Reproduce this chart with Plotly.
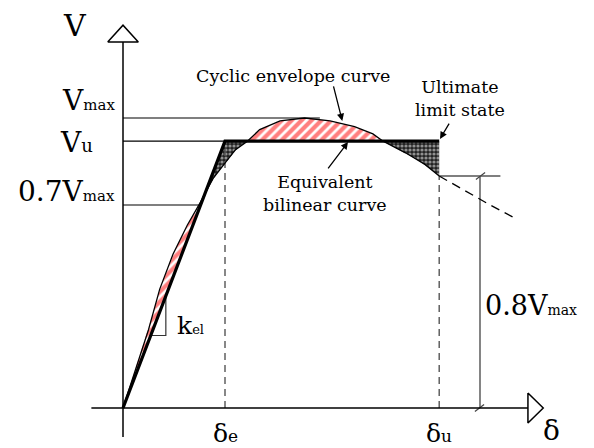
import numpy as np
import plotly.graph_objects as go

# ---------------- data (normalised units: V / Vmax, delta / delta_e) ----------------
V_max = 1.0
V_u = 0.92
V_07 = 0.7
V_08 = 0.8
delta_e = 1.0
delta_u = 3.1
delta_dim = 3.5  # abscissa of the 0.8Vmax dimension line

delta_env = [0, 0.12, 0.25, 0.36, 0.49, 0.63, 0.76, 0.88, 1.0, 1.1, 1.22, 1.34,
             1.54, 1.78, 2.03, 2.27, 2.45, 2.55, 2.77, 2.96, 3.1]
V_env = [0, 0.13, 0.27, 0.41, 0.53, 0.63, 0.71, 0.79, 0.845, 0.89, 0.92, 0.96,
         0.99, 1.0, 0.99, 0.97, 0.945, 0.92, 0.88, 0.84, 0.80]
delta_post = [3.1, 3.35, 3.6, 3.84]
V_post = [0.80, 0.75, 0.70, 0.655]

delta_bil = [0, delta_e, delta_u]
V_bil = [0, V_u, V_u]

k_el = V_u / delta_e

FONT = "DejaVu Serif"
W, H = 594, 448
X0, Y0 = 115, 400          # figure-pixel position of the origin (page has an 8px offset)
SX, SY = 102.0, 290.0      # pixels per unit
xr = [-X0 / SX, (W - X0) / SX]
yr = [-(H - Y0) / SY, Y0 / SY]

fig = go.Figure()

# ---------------- hatched regions between envelope and bilinear ----------------
dd = np.linspace(0, delta_u, 1500)
ve = np.interp(dd, delta_env, V_env)
vb = np.minimum(k_el * dd, V_u)
sgn = np.sign(np.round(ve - vb, 6))
n = len(dd)
i = 0
while i < n:
    s = sgn[i]
    if s == 0:
        i += 1
        continue
    j = i
    while j < n and sgn[j] == s:
        j += 1
    lo, hi = max(i - 1, 0), min(j, n - 1)
    xs = list(dd[lo:hi + 1]) + list(dd[lo:hi + 1][::-1])
    ys = list(ve[lo:hi + 1]) + list(vb[lo:hi + 1][::-1])
    if s > 0:
        patt = dict(shape="/", fgcolor="#ff0000", bgcolor="white", size=7, solidity=0.6)
    else:
        patt = dict(shape=".", fgcolor="white", bgcolor="#222", size=4, solidity=0.5)
    fig.add_trace(go.Scatter(x=xs, y=ys, mode="lines", fill="toself",
                             line=dict(width=0, color="rgba(0,0,0,0)"),
                             fillpattern=patt, hoverinfo="skip", showlegend=False))
    i = j

# ---------------- reference lines ----------------
i_pk = int(np.argmax(V_env))
d_pk = delta_env[i_pk]
d_07 = float(np.interp(V_07, V_env[:i_pk + 1], delta_env[:i_pk + 1]))
V_at_u = float(np.interp(delta_u, delta_env, V_env))

def seg(x, y, color="black", width=1.2, dash="solid"):
    fig.add_trace(go.Scatter(x=x, y=y, mode="lines",
                             line=dict(color=color, width=width, dash=dash),
                             hoverinfo="skip", showlegend=False))

seg([0, d_pk + 0.15], [V_max, V_max])
seg([0, delta_e], [V_u, V_u])
seg([0, d_07], [V_07, V_07])
seg([delta_u, delta_dim + 0.2], [V_08, V_08], color="#555", width=1.4)
seg([delta_e, delta_e], [0, V_u], color="#555", width=1.4, dash="7px,5px")
seg([delta_u, delta_u], [0, V_at_u], color="#555", width=1.4, dash="7px,5px")
seg([delta_dim, delta_dim], [0, V_08], color="#666", width=1.6)
seg([delta_dim - 0.04, delta_dim + 0.05], [V_08 - 0.012, V_08 + 0.012], color="#444", width=1.2)
seg([delta_dim - 0.05, delta_dim + 0.04], [-0.012, 0.012], color="#444", width=1.2)

# k_el triangle
kv0 = 0.25
kd0 = kv0 / k_el
kd1 = 0.42
seg([kd0, kd1, kd1], [kv0, kv0, k_el * kd1], color="#333", width=1.2)

# ---------------- curves ----------------
seg(delta_env, V_env, color="black", width=1.3)
seg(delta_post, V_post, color="black", width=1.3, dash="9px,6px")
seg(delta_bil, V_bil, color="black", width=3.2)

# ---------------- axes with open arrow heads ----------------
seg([0, 0], [-0.1, 1.262], width=1.5)
seg([-0.31, 3.97], [0, 0], width=1.5)
seg([-0.15, 0, 0.15, -0.15], [1.262, 1.32, 1.262, 1.262], width=1.5)
seg([3.97, 4.12, 3.97, 3.97], [0.052, 0, -0.052, 0.052], width=1.5)

# ---------------- texts ----------------
def sm(t, s=15):
    return f'<span style="font-size:{s}px">{t}</span>'

def txt(x, y, t, size=28, xa="center", ya="middle"):
    fig.add_annotation(x=x, y=y, text=t, showarrow=False, xanchor=xa, yanchor=ya,
                       font=dict(family=FONT, size=size, color="black"))

txt(-0.47, 1.32, "V", 30)
txt(-0.06, 1.06, "V" + sm("max"), 28, xa="right")
txt(-0.27, 0.915, "V" + sm("u", 18), 28, xa="right")
txt(-0.06, 0.745, "0.7V" + sm("max"), 28, xa="right")
txt(delta_e, -0.088, "δ" + sm("e", 17), 25)
txt(delta_u, -0.088, "δ" + sm("u", 17), 25)
txt(4.2, -0.078, "δ", 28)
txt(3.53, 0.355, "0.8V" + sm("max", 14), 27, xa="left")
txt(0.51, 0.286, "k" + sm("el", 13), 25, xa="left")

txt(1.667, 1.145, "Cyclic envelope curve", 17.5)
txt(3.30, 1.066, "Ultimate<br>limit state", 17.5)
txt(1.98, 0.74, "Equivalent<br>bilinear curve", 17.5)

def arrow(xh, yh, xt, yt):
    fig.add_annotation(x=xh, y=yh, ax=xt, ay=yt, xref="x", yref="y", axref="x", ayref="y",
                       text="", showarrow=True, arrowhead=2, arrowsize=1.1,
                       arrowwidth=1.3, arrowcolor="black")

arrow(2.15, 0.99, 2.06, 1.114)
arrow(3.108, 0.928, 3.206, 0.986)
arrow(2.206, 0.917, 2.0, 0.821)

fig.update_layout(width=W, height=H, margin=dict(l=0, r=0, t=0, b=0),
                  paper_bgcolor="white", plot_bgcolor="white", showlegend=False)
fig.update_xaxes(range=xr, visible=False, fixedrange=True)
fig.update_yaxes(range=yr, visible=False, fixedrange=True)
fig.write_html("out.html")
